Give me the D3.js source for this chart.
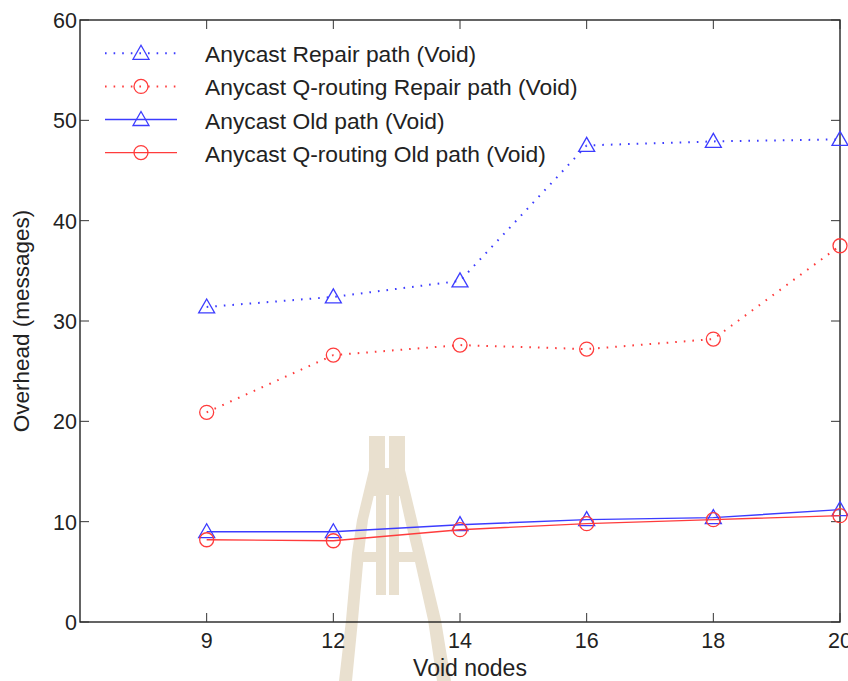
<!DOCTYPE html>
<html>
<head>
<meta charset="utf-8">
<script src="https://cdn.jsdelivr.net/npm/d3@7"></script>
<style>
  body { margin: 0; background: #fff; }
  svg text { font-family: "Liberation Sans", Arial, sans-serif; fill: #222; }
</style>
</head>
<body>
<div id="chart"></div>
<script>
const categories = ["9", "12", "14", "16", "18", "20"];
const repairAnycast = [31.4, 32.4, 34.0, 47.5, 47.9, 48.1];
const repairQrouting = [20.9, 26.6, 27.6, 27.2, 28.2, 37.5];
const oldAnycast = [9.0, 9.0, 9.7, 10.2, 10.4, 11.2];
const oldQrouting = [8.2, 8.1, 9.2, 9.8, 10.2, 10.6];
const yTicks = [0, 10, 20, 30, 40, 50, 60];

const blue = "#3c3cff";
const red = "#ff3c3c";

const series = [
  { name: "Anycast Repair path (Void)", values: repairAnycast, color: blue, marker: "triangle", dotted: true },
  { name: "Anycast Q-routing Repair path (Void)", values: repairQrouting, color: red, marker: "circle", dotted: true },
  { name: "Anycast Old path (Void)", values: oldAnycast, color: blue, marker: "triangle", dotted: false },
  { name: "Anycast Q-routing Old path (Void)", values: oldQrouting, color: red, marker: "circle", dotted: false }
];

const width = 848, height = 681;
const margin = { top: 20, right: 8, bottom: 59, left: 80 };

const svg = d3.select("#chart").append("svg")
  .attr("width", width)
  .attr("height", height);

// x: categories sit at slots 1..6, slot 0 is left empty
const x = d3.scaleLinear().domain([0, categories.length]).range([margin.left, width - margin.right]);
const y = d3.scaleLinear().domain([0, 60]).range([height - margin.bottom, margin.top]);

// faint logo watermark behind the plot
const tan = "#e9e0cf";
const wm = svg.append("g").attr("fill", tan);
wm.append("rect").attr("x", 369).attr("y", 436).attr("width", 36).attr("height", 60);
wm.append("path").attr("d", "M369,470 L380,470 L368,520 L364,553 L358,620 L352,681 L339,681 L346,620 L352,553 L357,520 Z");
wm.append("path").attr("d", "M394,470 L405,470 L417,520 L425,553 L441,620 L451,681 L437,681 L428,620 L413,553 L405,520 Z");
wm.append("rect").attr("x", 376).attr("y", 490).attr("width", 10).attr("height", 105);
wm.append("rect").attr("x", 389).attr("y", 490).attr("width", 10).attr("height", 105);
wm.append("rect").attr("x", 360).attr("y", 552).attr("width", 20).attr("height", 10);
wm.append("rect").attr("x", 395).attr("y", 552).attr("width", 22).attr("height", 10);
wm.append("rect").attr("x", 385).attr("y", 436).attr("width", 4).attr("height", 32).attr("fill", "#fff");
wm.append("rect").attr("x", 386).attr("y", 495).attr("width", 3).attr("height", 100).attr("fill", "#fff");

const plot = svg.append("g");

// box
plot.append("rect")
  .attr("x", x(0)).attr("y", y(60))
  .attr("width", x(categories.length) - x(0))
  .attr("height", y(0) - y(60))
  .attr("fill", "none").attr("stroke", "#111").attr("stroke-width", 1.3);

// inward ticks on all four sides
const tickLen = 9;
yTicks.forEach(t => {
  plot.append("line").attr("x1", x(0)).attr("x2", x(0) + tickLen).attr("y1", y(t)).attr("y2", y(t)).attr("stroke", "#333");
  plot.append("line").attr("x1", x(categories.length)).attr("x2", x(categories.length) - tickLen).attr("y1", y(t)).attr("y2", y(t)).attr("stroke", "#333");
});
categories.forEach((c, i) => {
  plot.append("line").attr("x1", x(i + 1)).attr("x2", x(i + 1)).attr("y1", y(0)).attr("y2", y(0) - tickLen).attr("stroke", "#333");
  plot.append("line").attr("x1", x(i + 1)).attr("x2", x(i + 1)).attr("y1", y(60)).attr("y2", y(60) + tickLen).attr("stroke", "#333");
});

// tick labels
svg.selectAll("text.ytick").data(yTicks).enter().append("text")
  .attr("class", "ytick")
  .attr("x", x(0) - 3)
  .attr("y", d => y(d) + 8)
  .attr("text-anchor", "end")
  .attr("font-size", 21.5)
  .text(d => d);

svg.selectAll("text.xtick").data(categories).enter().append("text")
  .attr("class", "xtick")
  .attr("x", (d, i) => x(i + 1))
  .attr("y", y(0) + 26)
  .attr("text-anchor", "middle")
  .attr("font-size", 21.5)
  .text(d => d);

// axis titles
svg.append("text")
  .attr("x", 470).attr("y", 676)
  .attr("text-anchor", "middle").attr("font-size", 23)
  .text("Void nodes");

svg.append("text")
  .attr("transform", `translate(29,${(y(0) + y(60)) / 2}) rotate(-90)`)
  .attr("text-anchor", "middle").attr("font-size", 22.5)
  .text("Overhead (messages)");

const line = d3.line().x((d, i) => x(i + 1)).y(d => y(d));

function drawMarker(g, type, cx, cy, color) {
  if (type === "triangle") {
    g.append("path")
      .attr("d", `M${cx},${cy - 8} L${cx + 8},${cy + 6} L${cx - 8},${cy + 6} Z`)
      .attr("fill", "none").attr("stroke", color).attr("stroke-width", 1.3);
  } else {
    g.append("circle").attr("cx", cx).attr("cy", cy).attr("r", 7)
      .attr("fill", "none").attr("stroke", color).attr("stroke-width", 1.3);
  }
}

series.forEach(s => {
  const g = plot.append("g");
  g.append("path")
    .attr("d", line(s.values))
    .attr("fill", "none")
    .attr("stroke", s.color)
    .attr("stroke-width", s.dotted ? 2 : 1.4)
    .attr("stroke-dasharray", s.dotted ? "1.6,7" : null);
  s.values.forEach((v, i) => drawMarker(g, s.marker, x(i + 1), y(v), s.color));
});

// legend (no frame)
const legend = svg.append("g");
series.forEach((s, i) => {
  const ly = 53.3 + i * 33.1;
  legend.append("line")
    .attr("x1", 105).attr("x2", 177).attr("y1", ly).attr("y2", ly)
    .attr("stroke", s.color)
    .attr("stroke-width", s.dotted ? 2 : 1.4)
    .attr("stroke-dasharray", s.dotted ? "1.6,7" : null);
  drawMarker(legend, s.marker, 141, ly, s.color);
  legend.append("text")
    .attr("x", 205).attr("y", ly + 9)
    .attr("font-size", 22.8)
    .text(s.name);
});
</script>
</body>
</html>
